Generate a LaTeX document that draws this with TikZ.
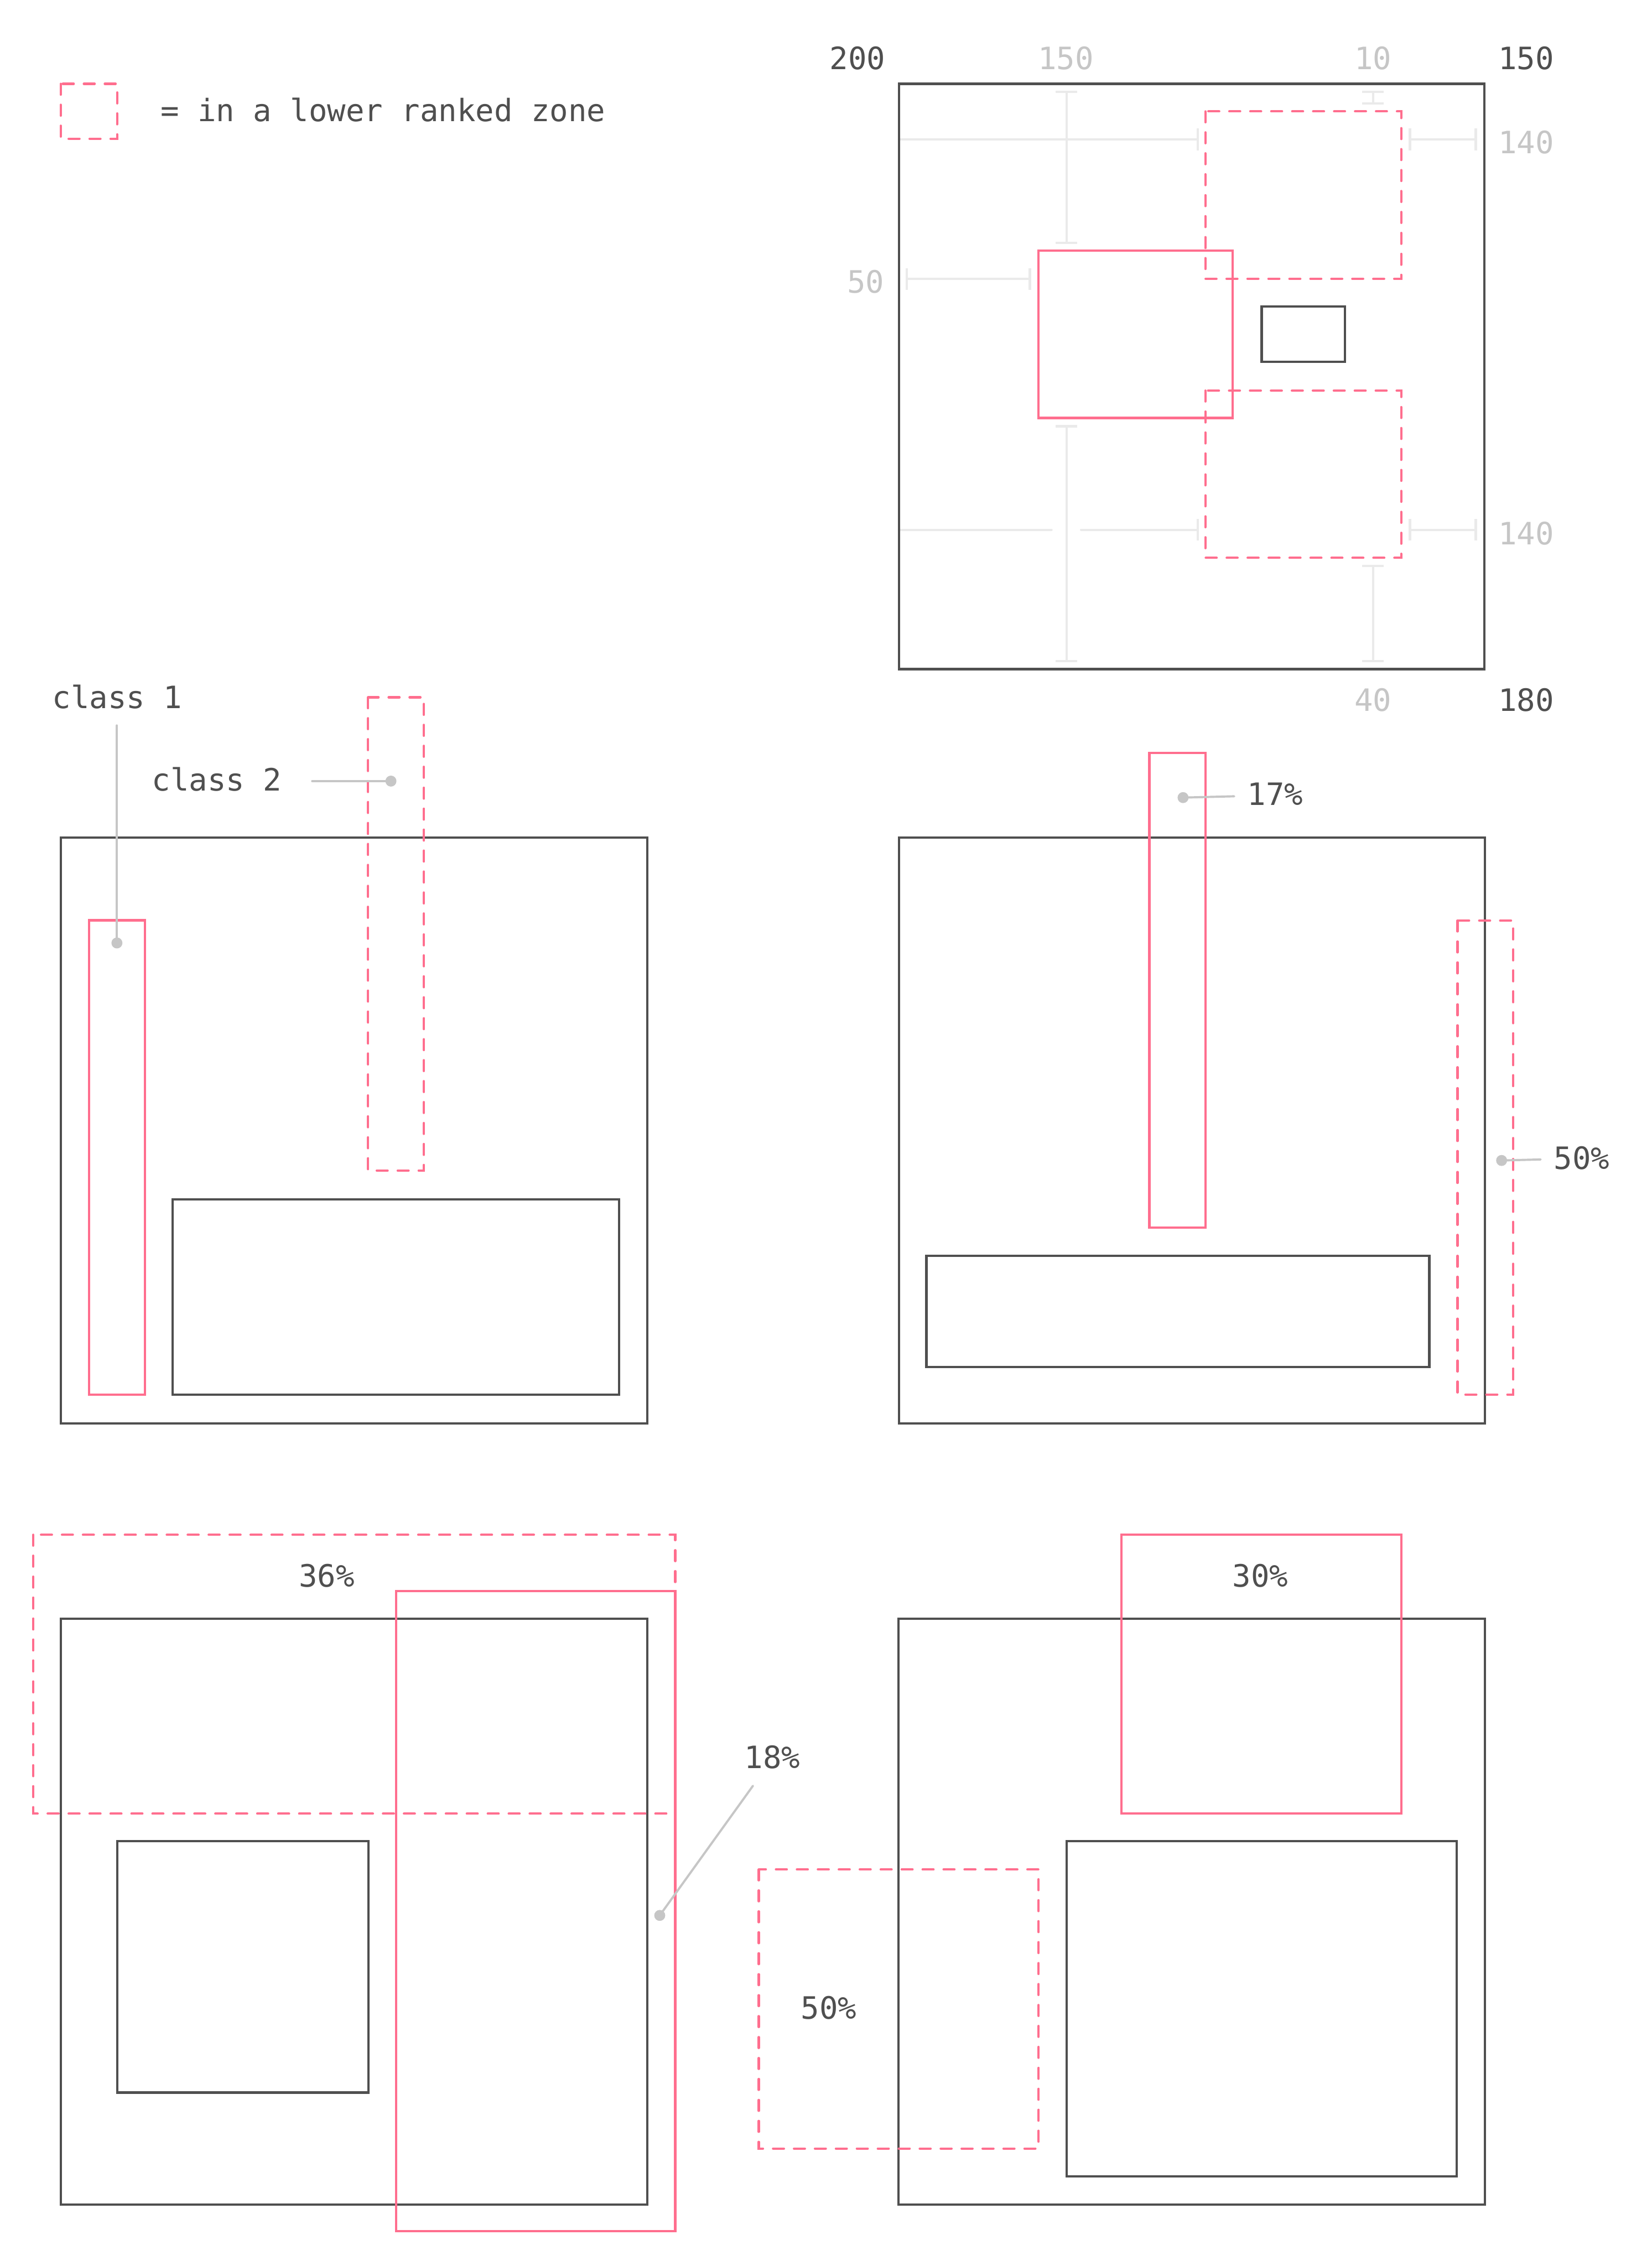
\documentclass[tikz,border=0pt]{standalone}
\usepackage{fontspec}
\setmonofont{DejaVu Sans Mono}
\usetikzlibrary{arrows.meta}
\definecolor{ink}{HTML}{4F4F4F}
\definecolor{rose}{HTML}{FF6E8E}
\definecolor{faint}{HTML}{C6C6C6}
\definecolor{dimline}{HTML}{EAEAEA}
\tikzset{
  frame/.style={draw=ink, line width=1.6pt},
  solidzone/.style={draw=rose, line width=1.6pt},
  dashzone/.style={draw=rose, line width=1.6pt, dash pattern=on 7.5pt off 7pt, line cap=round},
  lbl/.style={text=ink, font=\fontsize{21.3}{25}\selectfont\ttfamily, inner sep=0pt, anchor=base},
  glbl/.style={lbl, text=faint},
  leader/.style={draw=faint, line width=1.5pt, line cap=round},
  dotmark/.style={circle, fill=faint, inner sep=0pt, minimum size=7.6pt},
  dimline/.style={draw=dimline, line width=1.5pt},
  dimboth/.style={dimline, {Bar[width=15pt,line width=1.8pt]}-{Bar[width=15pt,line width=1.8pt]}},
  dimend/.style={dimline, line cap=round, -{Bar[width=15pt,line width=1.5pt]}},
}
\begin{document}
\begin{tikzpicture}[x=1pt,y=-1pt]
\useasboundingbox[fill=white] (0,0) rectangle (1143,1568);

% ---------- legend ----------
\draw[dashzone] (42,58) rectangle (81,96);
\node[lbl, anchor=base west] (legend) at (111,84) {= in a lower ranked zone};

% ---------- top-right panel ----------
% dimension lines
\draw[dimboth] (738,62.7) -- (738,169);
\draw[dimend] (622,96.5) -- (829.5,96.5);
\draw[dimboth] (950,62.7) -- (950,72.5);
\draw[dimboth] (974.6,96.5) -- (1022,96.5);
\draw[dimboth] (626.5,193) -- (713.4,193);
\draw[dimboth] (738,294) -- (738,458.4);
\draw[dimline, line cap=round] (622,366.6) -- (727.6,366.6);
\draw[dimend] (748,366.6) -- (829.5,366.6);
\draw[dimboth] (974.6,366.6) -- (1022,366.6);
\draw[dimboth] (950,390.7) -- (950,458.4);
% boxes
\draw[frame] (622,58) rectangle (1027,463);
\draw[frame] (873,212) rectangle (930.5,250.5);
\draw[solidzone] (718.5,173.5) rectangle (853,289.2);
\draw[dashzone] (834,77.1) rectangle (969.5,192.9);
\draw[dashzone] (834,270.3) rectangle (969.5,386);
% labels
\node[lbl] (w200) at (593.4,48) {200};
\node[glbl] (g150) at (737.5,48) {150};
\node[glbl] (g10) at (950,48) {10};
\node[lbl] (h150) at (1056,48) {150};
\node[glbl] (g140a) at (1056,106.3) {140};
\node[glbl] (g50) at (599,202.8) {50};
\node[glbl] (g140b) at (1056,376.7) {140};
\node[glbl] (g40) at (950,492) {40};
\node[lbl] (h180) at (1056,492) {180};

% ---------- middle-left panel ----------
\draw[frame] (42,579.5) rectangle (448,985);
\draw[frame] (119.5,830) rectangle (428.5,965);
\draw[solidzone] (61.6,636.8) rectangle (100.4,965);
\draw[dashzone] (254.7,482.5) rectangle (293.3,810);
\node[lbl, anchor=base west] (cls1) at (36,490) {class 1};
\node[lbl, anchor=base west] (cls2) at (105,547.3) {class 2};
\coordinate (c1a) at (80.9,502);
\node[dotmark] (c1dot) at (80.9,652.5) {};
\draw[leader] (c1a) -- (c1dot.center);
\coordinate (c2a) at (216,540.5);
\node[dotmark] (c2dot) at (270.5,540.5) {};
\draw[leader] (c2a) -- (c2dot.center);

% ---------- middle-right panel ----------
\draw[frame] (622,579.5) rectangle (1027.4,985);
\draw[frame] (641,869) rectangle (989,946);
\draw[solidzone] (795.3,521) rectangle (834,849.5);
\draw[dashzone] (1008.5,637) rectangle (1047,965);
\node[lbl, anchor=base west] (p17) at (863,557.3) {17\%};
\node[dotmark] (d17) at (818.6,551.9) {};
\coordinate (e17) at (854,551);
\draw[leader] (d17.center) -- (e17);
\node[lbl, anchor=base west] (p50r) at (1075,809) {50\%};
\node[dotmark] (d50r) at (1039,803) {};
\coordinate (e50r) at (1066,802.3);
\draw[leader] (d50r.center) -- (e50r);

% ---------- bottom-left panel ----------
\draw[frame] (42,1120) rectangle (448,1525.4);
\draw[frame] (81,1274) rectangle (255,1448);
\draw[dashzone] (23,1062) rectangle (467.2,1255);
\draw[solidzone] (274,1101) rectangle (467.2,1544);
\node[lbl] (p36) at (226,1098) {36\%};
\node[lbl, anchor=base west] (p18) at (515,1223.8) {18\%};
\node[dotmark] (d18) at (456.5,1325.4) {};
\coordinate (e18) at (521,1235.7);
\draw[leader] (d18.center) -- (e18);

% ---------- bottom-right panel ----------
\draw[frame] (621.6,1120) rectangle (1027.4,1525.4);
\draw[frame] (738,1274) rectangle (1008,1506);
\draw[solidzone] (776,1062) rectangle (969.5,1255);
\draw[dashzone] (525,1293.6) rectangle (718.6,1486.7);
\node[lbl] (p30) at (872,1098) {30\%};
\node[lbl] (p50b) at (573.5,1397) {50\%};
\end{tikzpicture}
\end{document}
